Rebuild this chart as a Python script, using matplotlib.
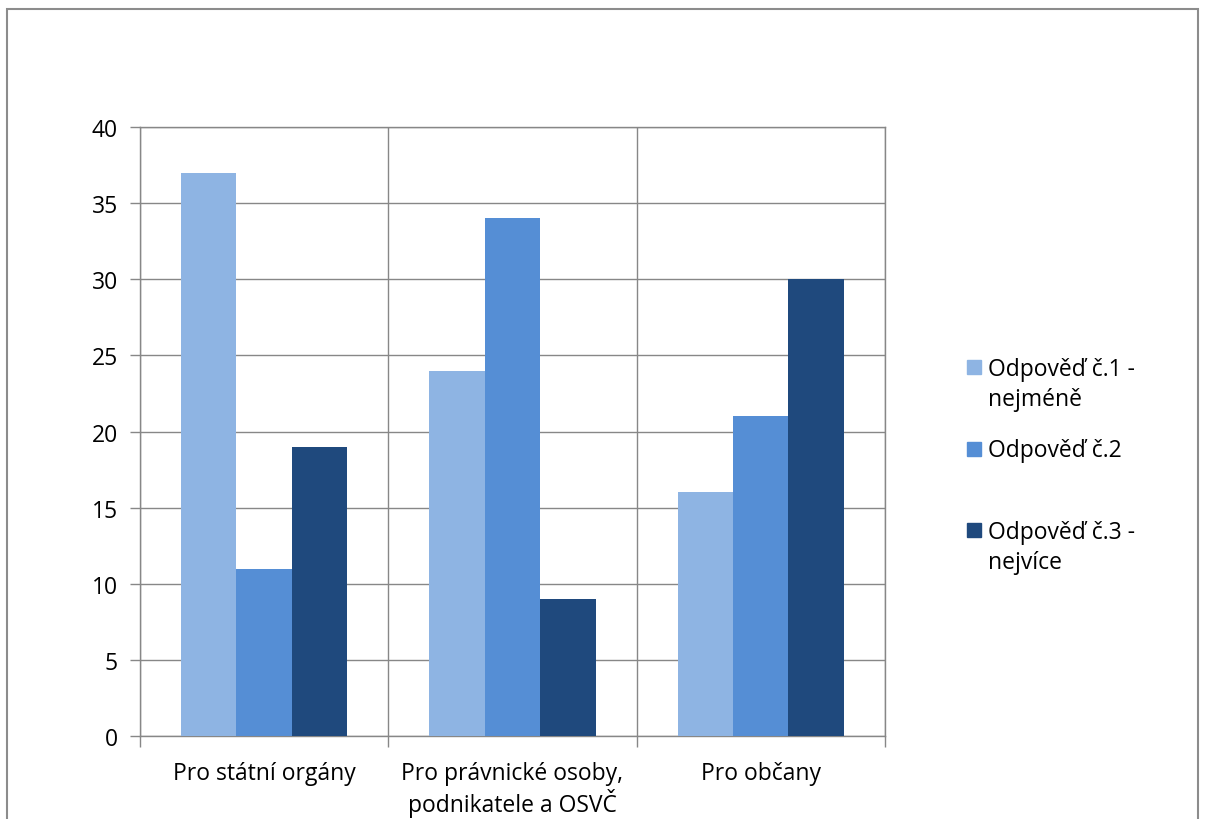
import numpy as np
import matplotlib.pyplot as plt
from matplotlib.patches import Rectangle

categories = ['Pro státní orgány', 'Pro právnické osoby,\npodnikatele a OSVČ', 'Pro občany']
series_names = ['Odpověď č.1 -\nnejméně', 'Odpověď č.2', 'Odpověď č.3 -\nnejvíce']
odpoved_1 = [37, 24, 16]
odpoved_2 = [11, 34, 21]
odpoved_3 = [19, 9, 30]
colors = ['#8EB4E3', '#558ED5', '#1F497D']
grid_col = '#878787'
fs = 16.5

plt.rcParams['font.family'] = ['Open Sans', 'DejaVu Sans']

fig = plt.figure(figsize=(12.06, 8.2), dpi=100)
ax = fig.add_axes([0.1161, 0.1012, 0.6177, 0.7427])

x = np.arange(len(categories))
w = 0.223
for i, vals in enumerate([odpoved_1, odpoved_2, odpoved_3]):
    ax.bar(x + (i - 1) * w, vals, w, color=colors[i], zorder=3)

ax.set_xlim(-0.5, len(categories) - 0.5)
ax.set_ylim(0, 40)
ax.set_yticks(range(0, 41, 5))
ax.set_xticks(x)
ax.set_xticklabels(categories, fontsize=fs, linespacing=1.15)
ax.set_xticks(np.arange(-0.5, len(categories)), minor=True)
ax.tick_params(axis='x', which='major', length=0, pad=18)
ax.tick_params(axis='x', which='minor', length=8, color=grid_col, width=1)
ax.tick_params(axis='y', length=7, color=grid_col, width=1, labelsize=fs, pad=9)
ax.grid(axis='y', color=grid_col, linewidth=1, zorder=0)
ax.grid(axis='x', which='minor', color=grid_col, linewidth=1, zorder=0)
for s in ax.spines.values():
    s.set_color(grid_col)
    s.set_linewidth(1)

# legend, squares aligned with first line like Excel
lx, ly, step = 967 / 1206, 1 - 368 / 820, 81.5 / 820
for i, name in enumerate(series_names):
    yy = ly - i * step
    fig.add_artist(Rectangle((lx, yy - 7 / 820), 14 / 1206, 14 / 820,
                             transform=fig.transFigure, color=colors[i]))
    fig.text(lx + 21 / 1206, yy + 10 / 820, name, fontsize=fs, va='top',
             ha='left', linespacing=1.35)

# outer chart border
fig.add_artist(Rectangle((7 / 1206, -0.05), 1191 / 1206, 1.05 - 10 / 820,
                         transform=fig.transFigure, fill=False,
                         edgecolor='#8c8c8c', linewidth=1.5))

fig.savefig('out.png', dpi=100)
